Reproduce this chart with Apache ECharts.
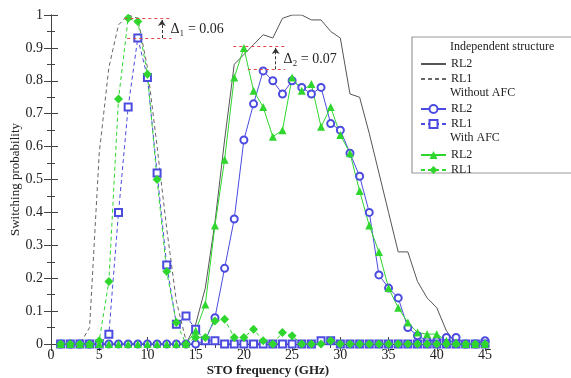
<!DOCTYPE html>
<html>
<head>
<meta charset="utf-8">
<script src="https://cdn.jsdelivr.net/npm/echarts@6/dist/echarts.min.js"></script>
<style>
  html, body { margin: 0; padding: 0; background: #fff; }
  #container { width: 571px; height: 378px; }
</style>
</head>
<body>
<div id="container"></div>
<script>
// frequencies (GHz)
var freq = [1, 2, 3, 4, 5, 6, 7, 8, 9, 10, 11, 12, 13, 14, 15, 16, 17, 18, 19, 20, 21, 22, 23,
            24, 25, 26, 27, 28, 29, 30, 31, 32, 33, 34, 35, 36, 37, 38, 39, 40, 41, 42, 43, 44, 45];

// independent structure
var indepRL2 = [0, 0, 0, 0, 0, 0, 0, 0, 0, 0, 0, 0, 0, 0, 0.06, 0.17, 0.37, 0.62, 0.85, 0.88, 0.91, 0.94, 0.93,
                0.99, 1.0, 1.0, 0.985, 0.985, 0.95, 0.93, 0.76, 0.75, 0.64, 0.52, 0.40, 0.28, 0.28, 0.19, 0.14, 0.11, 0.04, 0, 0, 0, 0];
var indepRL1 = [0, 0, 0, 0.05, 0.58, 0.84, 0.97, 1.0, 0.99, 0.84, 0.60, 0.35, 0.13, 0.01, 0, 0, 0, 0, 0, 0, 0, 0, 0,
                0, 0, 0, 0, 0, 0, 0, 0, 0, 0, 0, 0, 0, 0, 0, 0, 0, 0, 0, 0, 0, 0];

// without AFC
var noAfcRL2 = [0, 0, 0, 0, 0, 0, 0, 0, 0, 0, 0, 0, 0, 0, 0, 0.01, 0.08, 0.23, 0.38, 0.62, 0.73, 0.83, 0.80,
                0.76, 0.80, 0.78, 0.76, 0.78, 0.67, 0.65, 0.58, 0.51, 0.40, 0.21, 0.17, 0.14, 0.05, 0.025, 0.01, 0.01, 0.02, 0.02, 0, 0, 0.01];
var noAfcRL1 = [0, 0, 0, 0, 0, 0.03, 0.40, 0.72, 0.93, 0.81, 0.52, 0.24, 0.06, 0.085, 0.045, 0.01, 0.01, 0, 0, 0, 0, 0, 0,
                0, 0, 0, 0, 0.01, 0.01, 0, 0, 0, 0, 0, 0, 0, 0, 0, 0, 0, 0, 0, 0, 0, 0];

// with AFC
var afcRL2 = [0, 0, 0, 0, 0, 0, 0, 0, 0, 0, 0, 0, 0, 0, 0.04, 0.12, 0.36, 0.56, 0.81, 0.90, 0.77, 0.72, 0.63,
              0.65, 0.81, 0.77, 0.79, 0.66, 0.72, 0.635, 0.58, 0.465, 0.36, 0.28, 0.17, 0.11, 0.065, 0.035, 0.03, 0.03, 0.01, 0.005, 0, 0, 0];
var afcRL1 = [0, 0, 0, 0, 0.01, 0.19, 0.745, 0.99, 0.98, 0.82, 0.50, 0.22, 0.065, 0, 0.02, 0.02, 0.07, 0.075, 0.02, 0.02, 0.045, 0.01, 0,
              0.035, 0.025, 0, 0, 0, 0.01, 0, 0, 0, 0, 0, 0, 0, 0, 0, 0, 0, 0, 0, 0, 0, 0];

var serif = '"Liberation Serif", "DejaVu Serif", serif';
var axisCol = '#444';
var blue = '#4b4be0';
var green = '#2ed62e';
var red = '#e04848';

function pairs(vals) {
  return freq.map(function (f, i) { return [f, vals[i]]; });
}

function xAxisOf(pos, labels) {
  return {
    type: 'value', min: 0, max: 45, interval: 5, position: pos,
    axisLine: { show: true, lineStyle: { color: axisCol, width: 1 } },
    axisTick: { show: true, inside: true, length: 7, lineStyle: { color: axisCol } },
    minorTick: { show: true, splitNumber: 5, length: 4, lineStyle: { color: axisCol } },
    splitLine: { show: false },
    axisLabel: { show: labels, fontFamily: serif, fontSize: 14, color: '#222', margin: 4 },
    name: labels ? 'STO frequency (GHz)' : '',
    nameLocation: 'middle', nameGap: 20, nameMoveOverlap: false,
    nameTextStyle: { fontFamily: serif, fontSize: 13, color: '#222', fontWeight: 'bold' }
  };
}
function yAxisOf(pos, labels) {
  return {
    type: 'value', min: 0, max: 1, interval: 0.1, position: pos,
    axisLine: { show: true, lineStyle: { color: axisCol, width: 1 } },
    axisTick: { show: true, inside: true, length: 7, lineStyle: { color: axisCol } },
    minorTick: { show: true, splitNumber: 2, length: 4, lineStyle: { color: axisCol } },
    splitLine: { show: false },
    axisLabel: { show: labels, fontFamily: serif, fontSize: 14, color: '#222', margin: 8 },
    name: labels ? 'Switching probability' : '',
    nameLocation: 'middle', nameGap: 29, nameMoveOverlap: false,
    nameTextStyle: { fontFamily: serif, fontSize: 13, color: '#222' }
  };
}

var myChart = echarts.init(document.getElementById('container'), null, { renderer: 'canvas' });

var legendBase = {
  orient: 'vertical', left: 420, itemWidth: 25, itemHeight: 10, itemGap: 3, padding: 0, z: 20,
  formatter: function (n) { return n.split(' ').pop(); },
  textStyle: { fontFamily: serif, fontSize: 12, color: '#222' }
};
var noSymbol = { opacity: 0 };

var option = {
  animation: false,
  backgroundColor: '#fff',
  grid: { left: 51, right: 86, top: 15, bottom: 34, outerBoundsMode: 'none', containLabel: false },
  xAxis: [xAxisOf('bottom', true), xAxisOf('top', false)],
  yAxis: [yAxisOf('left', true), yAxisOf('right', false)],
  legend: [
    Object.assign({}, legendBase, { top: 58, data: [
      { name: 'Independent RL2', itemStyle: noSymbol },
      { name: 'Independent RL1', itemStyle: noSymbol }
    ] }),
    Object.assign({}, legendBase, { top: 103, data: ['Without RL2', 'Without RL1'] }),
    Object.assign({}, legendBase, { top: 149, data: ['With RL2', 'With RL1'] })
  ],
  graphic: [
    { type: 'rect', shape: { x: 412, y: 37, width: 170, height: 136 }, style: { fill: '#fff', stroke: '#999', lineWidth: 1.2 }, z: 10 },
    { type: 'text', x: 450, y: 41, style: { text: 'Independent structure', font: '12px ' + serif, fill: '#222' }, z: 11 },
    { type: 'text', x: 450, y: 87, style: { text: 'Without AFC', font: '12px ' + serif, fill: '#222' }, z: 11 },
    { type: 'text', x: 450, y: 132, style: { text: 'With AFC', font: '12px ' + serif, fill: '#222' }, z: 11 }
  ],
  series: [
    {
      name: 'Independent RL2', type: 'line', data: pairs(indepRL2), showSymbol: false, symbol: 'none',
      lineStyle: { color: '#555', width: 1 }, itemStyle: { color: '#555' }
    },
    {
      name: 'Independent RL1', type: 'line', data: pairs(indepRL1), showSymbol: false, symbol: 'none',
      lineStyle: { color: '#666', width: 1, type: [4, 3] }, itemStyle: { color: '#666' }
    },
    {
      name: 'Without RL2', type: 'line', data: pairs(noAfcRL2), symbol: 'emptyCircle', symbolSize: 7,
      lineStyle: { color: blue, width: 1 }, itemStyle: { color: blue, borderWidth: 1 }
    },
    {
      name: 'Without RL1', type: 'line', data: pairs(noAfcRL1), symbol: 'emptyRect', symbolSize: 7,
      lineStyle: { color: blue, width: 1, type: [4, 3] }, itemStyle: { color: blue, borderWidth: 1 }
    },
    {
      name: 'With RL2', type: 'line', data: pairs(afcRL2), symbol: 'triangle', symbolSize: 8,
      lineStyle: { color: green, width: 1 }, itemStyle: { color: green },
      markLine: {
        silent: true, animation: false, label: { show: false }, symbol: 'none',
        lineStyle: { color: red, width: 1, type: [3, 3] },
        data: [
          [{ coord: [7.6, 0.99] }, { coord: [12.5, 0.99] }],
          [{ coord: [7.9, 0.93] }, { coord: [12.5, 0.93] }],
          [{ coord: [18.9, 0.905] }, { coord: [24.3, 0.905] }],
          [{ coord: [20.4, 0.835] }, { coord: [24.3, 0.835] }],
          [{ coord: [11.5, 0.93], symbol: 'none' },
           { coord: [11.5, 0.985], symbol: 'arrow', symbolSize: 6, lineStyle: { color: '#333', type: [3, 2] } }],
          [{ coord: [23.3, 0.835], symbol: 'none' },
           { coord: [23.3, 0.9], symbol: 'arrow', symbolSize: 6, lineStyle: { color: '#333', type: [3, 2] } }]
        ]
      },
      markPoint: {
        silent: true, symbol: 'circle', symbolSize: 0,
        label: { show: true, position: 'right', distance: 0, fontFamily: serif, fontSize: 14, color: '#222' },
        data: [
          { coord: [12.4, 0.955], label: { formatter: 'Δ₁ = 0.06' } },
          { coord: [24.1, 0.865], label: { formatter: 'Δ₂ = 0.07' } }
        ]
      }
    },
    {
      name: 'With RL1', type: 'line', data: pairs(afcRL1), symbol: 'diamond', symbolSize: 9,
      lineStyle: { color: green, width: 1, type: [4, 3] }, itemStyle: { color: green }
    }
  ]
};
myChart.setOption(option);
</script>
</body>
</html>
